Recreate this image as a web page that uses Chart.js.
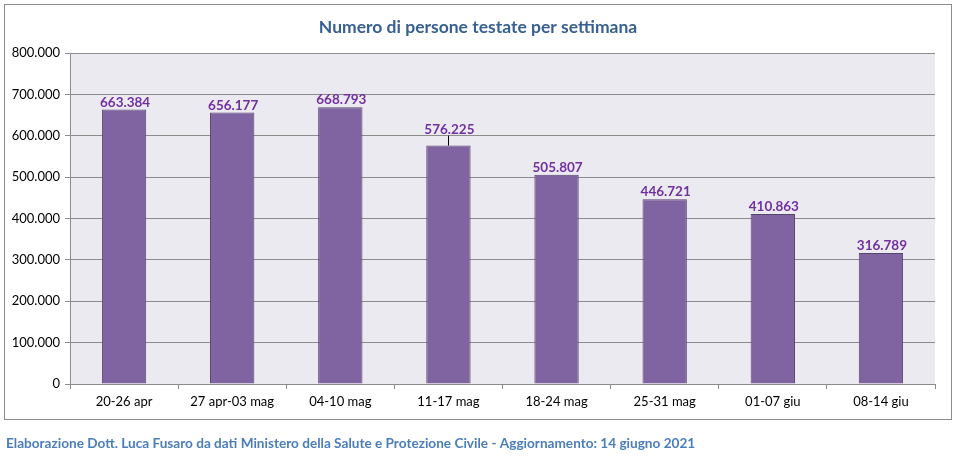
<!DOCTYPE html>
<html>
<head>
<meta charset="utf-8">
<script src="https://cdn.jsdelivr.net/npm/chart.js@4.4.1/dist/chart.umd.min.js"></script>
<style>
html,body{margin:0;padding:0;background:#fff;}
#wrap{width:958px;height:458px;position:relative;}
</style>
</head>
<body>
<div id="wrap"><canvas id="c" width="958" height="458"></canvas></div>
<script>
const categories = ["20-26 apr","27 apr-03 mag","04-10 mag","11-17 mag","18-24 mag","25-31 mag","01-07 giu","08-14 giu"];
const values = [663384, 656177, 668793, 576225, 505807, 446721, 410863, 316789];
const yTicks = [0,100000,200000,300000,400000,500000,600000,700000,800000];
const titleText = "Numero di persone testate per settimana";
const footerText = "Elaborazione Dott. Luca Fusaro da dati Ministero della Salute e Protezione Civile - Aggiornamento: 14 giugno 2021";

function fmt(v){ return String(Math.round(v)).replace(/\B(?=(\d{3})+(?!\d))/g, "."); }

const FONT = "Lato, 'Open Sans', sans-serif";

const decor = {
  id:'decor',
  beforeDraw(chart){
    const ctx = chart.ctx, a = chart.chartArea;
    ctx.save();
    ctx.fillStyle = '#ffffff';
    ctx.fillRect(0,0,chart.width,chart.height);
    ctx.fillStyle = '#ECEAF1';
    ctx.fillRect(a.left, a.top, a.right-a.left, a.bottom-a.top);
    ctx.strokeStyle = '#8c8c8c';
    ctx.lineWidth = 1;
    ctx.strokeRect(4.5, 4.5, 947, 415);
    ctx.restore();
  },
  afterDraw(chart){
    const ctx = chart.ctx;
    const meta = chart.getDatasetMeta(0);
    ctx.save();
    ctx.font = "bold 17.5px " + FONT;
    ctx.fillStyle = '#376092';
    ctx.textAlign = 'center';
    ctx.textBaseline = 'middle';
    ctx.fillText(titleText, 478, 27);

    ctx.font = "bold 13.5px " + FONT;
    ctx.fillStyle = '#7030A0';
    ctx.textAlign = 'center';
    ctx.textBaseline = 'alphabetic';
    meta.data.forEach((bar, i) => {
      let y = bar.y - 3;
      if (i === 3) {
        y = bar.y - 12;
        ctx.strokeStyle = '#000';
        ctx.lineWidth = 1;
        ctx.beginPath();
        ctx.moveTo(Math.round(bar.x)+0.5, bar.y);
        ctx.lineTo(Math.round(bar.x)+0.5, y + 2);
        ctx.stroke();
      }
      ctx.fillText(fmt(values[i]), bar.x + 1, y);
    });
    ctx.font = "bold 13.6px " + FONT;
    ctx.fillStyle = '#4A7EBB';
    ctx.textAlign = 'left';
    ctx.textBaseline = 'middle';
    ctx.fillText(footerText, 6, 444);
    ctx.restore();
  }
};

new Chart(document.getElementById('c'), {
  type: 'bar',
  data: {
    labels: categories,
    datasets: [{
      data: values,
      backgroundColor: '#8064A2',
      borderColor: '#58436F',
      borderWidth: 1,
      categoryPercentage: 1,
      barPercentage: 0.41
    }]
  },
  options: {
    responsive: false,
    animation: false,
    devicePixelRatio: 1,
    layout: { padding: { left: 0, right: 23, top: 53, bottom: 34 } },
    plugins: {
      legend: { display: false },
      tooltip: { enabled: false },
      title: { display: false }
    },
    scales: {
      x: {
        afterFit(s){ s.height = 40; },
        grid: { drawOnChartArea: false, drawTicks: true, tickLength: 5, color: '#8c8c8c', offset: true },
        border: { color: '#8c8c8c' },
        ticks: { color: '#000', font: { family: FONT, size: 13 }, padding: 5, maxRotation: 0 }
      },
      y: {
        min: 0, max: 800000,
        afterFit(s){ s.width = 70; },
        afterBuildTicks(s){ s.ticks = yTicks.map(v => ({value: v})); },
        grid: { color: '#8c8c8c', tickLength: 5 },
        border: { color: '#8c8c8c' },
        ticks: { color: '#000', font: { family: FONT, size: 13 }, padding: 5, callback: v => fmt(v) }
      }
    }
  },
  plugins: [decor]
});
</script>
</body>
</html>
